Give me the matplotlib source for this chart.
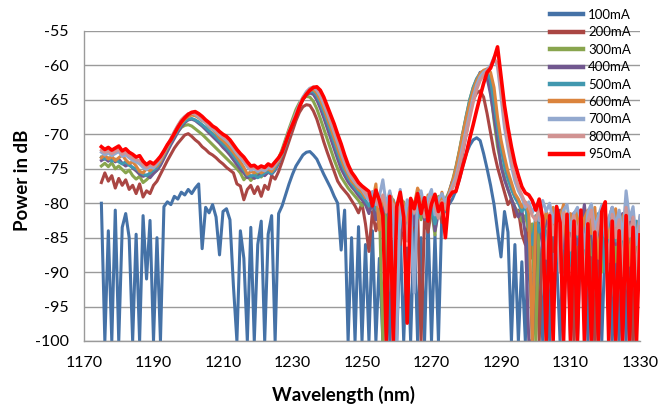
import numpy as np
import matplotlib
matplotlib.use("Agg")
import matplotlib.pyplot as plt

# ---------------- data ----------------
wavelength = list(range(1175, 1331))  # nm, 1 nm steps

labels = ["100mA", "200mA", "300mA", "400mA", "500mA", "600mA", "700mA", "800mA", "950mA"]
colors = ["#4572A7", "#AA4643", "#89A54E", "#71588F", "#4198AF", "#DB843D", "#93A9CF", "#D19392", "#FF0000"]

p100 = [
    -80.0, -100, -84.0, -100, -81.0, -100, -83.5, -81.5, -85.0, -100,
    -84.5, -100, -81.8, -91.0, -82.5, -100, -85.0, -100, -80.5, -79.8,
    -80.2, -79.0, -79.4, -78.4, -78.8, -78.0, -78.6, -77.8, -77.2, -86.6,
    -80.6, -81.4, -80.2, -82.0, -87.5, -81.2, -80.8, -82.4, -92.0, -100,
    -84.0, -88.0, -100, -83.5, -100, -86.0, -82.6, -100, -84.5, -81.8,
    -100, -81.5, -80.4, -78.8, -77.2, -75.8, -74.6, -73.8, -73.0, -72.6,
    -72.5, -73.0, -73.6, -74.7, -75.8, -76.8, -77.8, -79.0, -80.0, -86.8,
    -81.0, -100, -85.0, -100, -83.4, -100, -86.0, -100, -84.0, -100,
    -88.0, -100, -82.5, -100, -85.5, -100, -84.0, -100, -86.5, -100,
    -83.0, -100, -85.0, -100, -82.4, -100, -84.6, -100, -81.0, -79.6,
    -80.2, -79.4, -78.2, -76.6, -74.6, -72.8, -71.6, -70.8, -70.5, -70.9,
    -72.8, -75.0, -77.4, -80.2, -84.0, -87.8, -81.2, -84.2, -100, -86.0,
    -100, -88.5, -100, -84.0, -100, -83.0, -86.5, -100, -84.0, -100,
    -82.6, -88.0, -100, -85.0, -83.2, -100, -86.0, -100, -84.4, -82.0,
    -100, -87.0, -100, -83.6, -100, -85.4, -82.8, -100, -87.8, -100,
    -84.0, -100, -83.0, -100, -85.5, -84.0,
]
p200 = [
    -77.0, -75.6, -76.8, -76.0, -77.8, -76.4, -77.4, -76.6, -78.0, -77.4,
    -78.6, -77.2, -79.1, -78.2, -78.6, -77.4, -76.8, -75.8, -74.8, -73.8,
    -72.9, -72.0, -71.3, -70.7, -70.1, -69.9, -70.3, -70.8, -71.2, -71.8,
    -72.2, -72.7, -73.0, -73.4, -73.9, -74.3, -74.8, -75.2, -75.6, -77.2,
    -77.5, -79.5, -78.0, -77.4, -78.6, -77.6, -79.0, -77.4, -78.0, -76.0,
    -76.5, -75.4, -74.0, -72.5, -71.0, -69.5, -68.0, -66.8, -66.0, -65.7,
    -65.8, -66.6, -67.8, -69.4, -71.1, -72.6, -74.0, -75.4, -76.8, -77.6,
    -78.2, -78.8, -79.6, -80.4, -81.4, -80.0, -83.0, -87.0, -81.2, -84.0,
    -82.0, -80.6, -84.5, -81.8, -83.0, -80.4, -86.0, -82.4, -81.0, -85.0,
    -82.6, -80.8, -100, -82.0, -84.2, -81.0, -83.4, -80.6, -82.8, -80.4,
    -79.0, -77.5, -75.2, -72.8, -70.6, -68.4, -66.5, -65.0, -64.0, -63.7,
    -64.6, -67.0, -69.8, -72.6, -74.8, -76.6, -78.4, -80.2, -79.4, -82.0,
    -81.0, -84.5, -86.0, -82.4, -88.0, -83.0, -100, -84.4, -86.5, -82.6,
    -87.0, -84.0, -83.0, -90.0, -85.4, -82.8, -100, -86.0, -84.2, -88.0,
    -83.4, -86.5, -100, -84.0, -82.6, -89.0, -85.0, -83.2, -100, -86.0,
    -84.5, -88.5, -83.0, -100, -86.0, -84.8,
]
p300 = [
    -74.6, -74.2, -74.7, -74.1, -75.0, -74.6, -75.1, -75.6, -75.2, -76.0,
    -76.5, -76.1, -77.0, -76.6, -76.1, -75.6, -75.2, -74.3, -73.3, -72.2,
    -71.2, -70.3, -69.6, -69.0, -68.7, -68.6, -68.8, -69.2, -69.6, -70.0,
    -70.5, -71.0, -71.5, -72.0, -72.5, -73.0, -73.5, -74.0, -74.5, -75.0,
    -75.6, -76.6, -76.0, -76.7, -76.1, -75.6, -76.2, -75.5, -75.1, -75.6,
    -74.6, -73.5, -72.2, -70.7, -69.2, -67.8, -66.4, -65.4, -64.8, -64.5,
    -64.6, -65.2, -66.3, -67.7, -69.2, -70.7, -72.2, -73.7, -75.0, -76.2,
    -77.0, -77.8, -78.4, -79.0, -79.6, -80.4, -79.8, -81.2, -80.2, -82.0,
    -80.5, -100, -81.0, -79.6, -82.8, -80.4, -81.6, -79.8, -83.0, -80.6,
    -81.2, -79.8, -82.4, -80.5, -79.6, -81.0, -84.6, -79.0, -81.6, -79.5,
    -78.4, -76.8, -74.8, -72.4, -69.8, -67.4, -65.0, -63.2, -62.0, -61.5,
    -61.4, -61.6, -63.6, -68.0, -71.8, -74.2, -76.2, -78.0, -79.4, -80.6,
    -81.4, -82.6, -81.8, -84.0, -83.0, -100, -82.0, -85.0, -81.6, -86.0,
    -82.4, -84.8, -81.2, -86.5, -83.0, -81.8, -88.0, -82.6, -85.2, -81.4,
    -84.0, -87.5, -82.2, -83.6, -90.0, -81.8, -84.6, -82.4, -88.5, -83.0,
    -82.0, -86.0, -84.4, -81.6, -87.0, -83.5,
]
p400 = [
    -73.8, -73.5, -73.9, -73.4, -74.0, -73.6, -74.2, -74.6, -74.3, -74.9,
    -75.3, -75.8, -76.1, -75.9, -76.3, -75.7, -75.2, -74.5, -73.5, -72.5,
    -71.5, -70.6, -69.7, -68.9, -68.3, -67.9, -67.8, -68.0, -68.4, -68.8,
    -69.3, -69.8, -70.3, -70.8, -71.3, -71.9, -72.4, -73.0, -73.7, -74.4,
    -75.1, -75.6, -76.3, -76.0, -76.4, -76.1, -75.7, -76.0, -75.5, -75.8,
    -75.2, -74.2, -73.0, -71.6, -70.1, -68.6, -67.2, -65.9, -64.9, -64.3,
    -64.0, -64.2, -65.0, -66.2, -67.6, -69.1, -70.6, -72.1, -73.6, -75.0,
    -76.0, -76.9, -77.6, -78.2, -78.9, -79.5, -80.2, -81.5, -79.8, -82.4,
    -80.4, -81.6, -79.4, -83.6, -80.6, -82.0, -80.2, -84.8, -81.0, -80.4,
    -83.2, -80.6, -79.8, -82.4, -81.0, -80.0, -84.0, -81.4, -79.4, -80.6,
    -78.6, -76.8, -77.0, -75.2, -72.6, -70.0, -67.0, -64.5, -62.5, -61.0,
    -61.0, -61.8, -64.2, -67.5, -70.8, -74.6, -76.6, -78.0, -79.4, -80.6,
    -82.0, -81.0, -84.5, -100, -100, -83.0, -82.2, -86.5, -81.6, -84.0,
    -82.8, -88.0, -81.0, -84.6, -90.0, -82.6, -81.4, -86.0, -83.5, -80.2,
    -85.5, -82.0, -92.0, -83.4, -81.8, -87.0, -82.5, -80.6, -86.0, -84.4,
    -81.5, -89.0, -83.0, -81.6, -92.0, -84.0,
]
p500 = [
    -73.3, -73.6, -73.4, -73.9, -73.6, -74.0, -74.3, -74.0, -74.5, -74.8,
    -75.0, -75.4, -75.8, -76.0, -75.6, -75.2, -74.8, -74.0, -73.0, -72.1,
    -71.1, -70.2, -69.4, -68.6, -68.1, -67.8, -67.7, -67.9, -68.2, -68.6,
    -69.0, -69.5, -69.9, -70.4, -70.9, -71.4, -71.9, -72.5, -73.1, -73.8,
    -74.5, -75.2, -75.9, -76.1, -75.9, -76.3, -76.0, -75.6, -75.4, -75.7,
    -75.0, -74.0, -72.9, -71.5, -70.0, -68.6, -67.2, -65.9, -64.9, -64.2,
    -63.8, -63.8, -64.4, -65.5, -66.8, -68.2, -69.7, -71.2, -72.7, -74.1,
    -75.3, -76.3, -77.1, -77.8, -78.4, -79.0, -79.6, -80.4, -79.2, -80.8,
    -81.5, -79.6, -80.8, -82.4, -79.5, -81.2, -80.0, -83.6, -80.7, -81.9,
    -79.8, -82.2, -80.4, -79.6, -81.8, -80.2, -83.0, -80.6, -79.4, -81.2,
    -78.8, -77.2, -75.0, -72.6, -69.9, -67.3, -65.0, -63.2, -61.9, -61.1,
    -60.8, -60.9, -62.2, -65.5, -69.0, -72.0, -74.6, -76.5, -78.0, -79.2,
    -80.0, -81.2, -80.4, -83.5, -86.0, -81.8, -84.2, -82.0, -87.5, -82.8,
    -84.0, -81.2, -86.6, -83.0, -81.8, -89.0, -82.4, -84.8, -81.6, -88.0,
    -83.2, -82.0, -86.2, -81.5, -84.0, -90.0, -82.8, -81.4, -85.5, -83.0,
    -88.0, -82.2, -84.6, -86.5, -82.6, -85.0,
]
p600 = [
    -73.4, -73.0, -73.6, -73.2, -73.8, -73.4, -73.0, -73.7, -74.2, -74.0,
    -74.6, -75.4, -75.6, -75.0, -75.3, -74.8, -74.6, -73.9, -72.9, -71.9,
    -70.9, -70.0, -69.1, -68.4, -67.8, -67.4, -67.2, -67.3, -67.6, -68.0,
    -68.3, -68.9, -69.3, -69.8, -70.5, -70.9, -71.4, -72.0, -72.6, -73.3,
    -74.0, -74.8, -75.8, -75.4, -75.6, -75.2, -75.6, -75.3, -75.0, -75.4,
    -74.6, -73.9, -72.8, -71.4, -69.9, -68.5, -67.2, -65.9, -64.8, -64.0,
    -63.6, -63.5, -64.0, -65.0, -66.2, -67.6, -69.0, -70.5, -72.0, -73.5,
    -74.8, -75.8, -76.8, -77.3, -78.0, -78.4, -79.2, -78.8, -80.0, -77.2,
    -83.9, -79.0, -80.6, -78.5, -79.8, -81.0, -78.9, -80.2, -82.5, -79.5,
    -80.3, -77.8, -79.0, -81.6, -78.8, -80.5, -79.6, -82.0, -78.4, -80.9,
    -78.5, -77.0, -75.0, -72.6, -70.0, -67.6, -65.5, -63.6, -62.2, -61.2,
    -60.7, -60.5, -61.0, -63.2, -67.5, -70.8, -73.2, -75.4, -77.0, -78.6,
    -79.4, -80.6, -79.8, -81.5, -100, -82.4, -80.8, -84.0, -81.2, -83.0,
    -80.6, -85.5, -82.0, -80.2, -87.0, -81.5, -83.6, -80.8, -86.0, -82.2,
    -81.0, -84.4, -80.6, -88.0, -82.5, -81.2, -85.0, -83.0, -80.8, -87.5,
    -82.0, -81.0, -89.0, -83.2, -84.5, -82.0,
]
p700 = [
    -72.6, -73.0, -72.7, -73.1, -72.8, -72.5, -73.2, -73.0, -73.4, -73.8,
    -74.0, -74.3, -74.8, -75.1, -74.7, -74.9, -74.3, -73.6, -72.6, -71.7,
    -70.7, -69.7, -68.8, -68.0, -67.5, -67.1, -66.9, -67.1, -67.5, -67.9,
    -68.3, -68.8, -69.2, -69.6, -70.1, -70.5, -70.9, -71.4, -72.1, -72.8,
    -73.4, -74.0, -74.7, -75.2, -75.0, -75.4, -75.1, -75.3, -74.8, -75.0,
    -74.4, -73.6, -72.6, -71.0, -69.5, -68.2, -66.9, -65.6, -64.6, -63.8,
    -63.3, -63.2, -63.6, -64.4, -65.6, -66.9, -68.3, -69.7, -71.2, -72.7,
    -74.1, -75.4, -76.3, -77.0, -77.6, -78.0, -78.8, -79.6, -78.3, -80.2,
    -79.0, -76.6, -80.4, -78.2, -81.6, -100, -78.0, -84.0, -79.5, -80.6,
    -93.0, -79.0, -78.2, -80.8, -79.3, -78.0, -81.7, -79.4, -78.6, -79.8,
    -78.8, -77.5, -76.2, -74.0, -71.6, -69.2, -66.9, -64.6, -62.8, -61.6,
    -61.0, -60.6, -60.0, -58.8, -60.2, -64.5, -69.0, -72.0, -74.6, -76.8,
    -78.2, -79.2, -80.6, -79.8, -81.4, -80.2, -82.5, -79.6, -81.2, -80.0,
    -82.8, -80.4, -83.5, -81.0, -80.2, -84.0, -81.5, -80.6, -82.4, -86.5,
    -81.3, -80.1, -83.7, -81.9, -80.3, -84.8, -82.2, -80.6, -83.3, -81.0,
    -85.2, -78.2, -82.4, -80.5, -86.0, -81.8,
]
p800 = [
    -72.3, -72.6, -72.4, -72.8, -72.5, -72.2, -72.9, -72.6, -73.1, -73.4,
    -73.7, -73.8, -74.4, -74.8, -74.4, -74.6, -74.0, -73.4, -72.4, -71.6,
    -70.6, -69.6, -68.7, -67.9, -67.4, -67.0, -66.9, -67.0, -67.3, -67.7,
    -68.2, -68.6, -69.0, -69.4, -69.9, -70.3, -70.6, -71.1, -71.8, -72.5,
    -73.1, -73.7, -74.4, -74.9, -74.8, -75.1, -74.9, -75.0, -74.6, -74.8,
    -74.2, -73.5, -72.6, -71.1, -69.6, -68.4, -67.1, -65.8, -64.7, -64.0,
    -63.4, -63.1, -63.3, -64.0, -65.1, -66.4, -67.8, -69.2, -70.6, -72.0,
    -73.6, -75.0, -76.0, -76.7, -77.4, -77.8, -78.5, -79.0, -79.9, -79.4,
    -80.5, -78.8, -81.3, -79.6, -80.2, -82.8, -79.2, -81.0, -85.5, -79.8,
    -81.4, -79.5, -80.2, -82.0, -80.6, -79.1, -80.5, -82.2, -79.7, -80.8,
    -79.0, -77.9, -76.8, -74.8, -72.4, -70.0, -67.7, -65.4, -63.5, -62.2,
    -61.4, -60.8, -60.2, -59.2, -59.6, -63.5, -68.0, -71.2, -73.8, -76.0,
    -77.6, -78.8, -80.0, -80.5, -81.8, -82.5, -80.6, -83.8, -88.0, -81.5,
    -84.6, -82.0, -90.0, -81.4, -83.6, -86.8, -81.8, -84.5, -82.0, -92.0,
    -82.6, -81.0, -86.0, -83.0, -81.5, -83.8, -88.5, -81.6, -85.0, -82.4,
    -90.5, -80.6, -84.8, -82.0, -91.0, -83.4,
]
p950 = [
    -71.8, -72.2, -71.9, -72.3, -72.0, -71.7, -72.4, -72.1, -72.6, -72.9,
    -73.3, -73.1, -73.9, -74.4, -74.0, -74.3, -73.8, -73.2, -72.4, -71.5,
    -70.8, -69.9, -69.0, -68.2, -67.6, -67.1, -66.8, -66.7, -67.0, -67.4,
    -67.9, -68.3, -68.8, -69.1, -69.6, -70.0, -70.3, -70.8, -71.5, -72.2,
    -72.8, -73.3, -74.0, -74.6, -74.5, -74.9, -74.6, -74.8, -74.3, -74.6,
    -74.0, -73.4, -72.6, -71.2, -69.8, -68.6, -67.4, -66.0, -64.9, -64.2,
    -63.6, -63.2, -63.1, -63.6, -64.6, -65.9, -67.2, -68.5, -70.0, -71.4,
    -73.0, -74.4, -75.5, -76.2, -77.0, -77.5, -77.9, -78.3, -80.4, -78.1,
    -79.6, -81.8, -100, -79.0, -100, -80.5, -78.4, -82.0, -97.4, -79.3,
    -80.8, -78.6, -81.5, -79.2, -82.6, -80.1, -78.7, -81.2, -80.0, -85.0,
    -79.2, -78.4, -78.3, -76.5, -74.6, -72.8, -70.6, -68.6, -66.5, -64.5,
    -62.6, -61.0, -60.4, -59.0, -57.3, -61.5, -65.8, -69.0, -71.8, -74.2,
    -76.0, -77.6, -78.5, -78.8, -79.6, -81.0, -79.4, -82.2, -100, -81.8,
    -100, -80.5, -82.8, -100, -81.6, -100, -82.6, -100, -81.0, -100,
    -83.0, -100, -84.2, -100, -81.2, -79.8, -100, -82.6, -100, -84.0,
    -100, -81.8, -100, -83.5, -100, -84.6,
]
series = [p100, p200, p300, p400, p500, p600, p700, p800, p950]

x_ticks = [1170, 1190, 1210, 1230, 1250, 1270, 1290, 1310, 1330]
y_ticks = [-55, -60, -65, -70, -75, -80, -85, -90, -95, -100]

# ---------------- plot ----------------
plt.rcParams['font.family'] = ['Lato', 'DejaVu Sans']
plt.rcParams['axes.unicode_minus'] = False
fig = plt.figure(figsize=(6.7, 4.05), dpi=100)
ax = fig.add_axes([84/670, 1-341/405, (640-84)/670, (341-31)/405])

for vals, lab, col in zip(series, labels, colors):
    lw = 2.6 if lab == "950mA" else 2.2
    ax.plot(wavelength, vals, color=col, lw=lw, label=lab, solid_joinstyle='round')

ax.set_xlim(1170, 1330)
ax.set_ylim(-100, -55)
ax.set_xticks(x_ticks)
ax.set_yticks(y_ticks)
ax.tick_params(axis='both', length=0, labelsize=11.5, colors='#000000')
ax.tick_params(axis='y', pad=11)
ax.tick_params(axis='x', pad=11)
ax.yaxis.grid(True, color='#9A9A9A', lw=1)
ax.set_axisbelow(True)
for s in ['top', 'right']:
    ax.spines[s].set_visible(False)
for s in ['left', 'bottom']:
    ax.spines[s].set_color('#9A9A9A')
    ax.spines[s].set_linewidth(1)

fig.text(343/670, 1-395/405, "Wavelength (nm)", ha='center', va='center',
         fontsize=13.5, fontweight='bold')
fig.text(23/670, 1-180/405, "Power in dB", ha='center', va='center',
         rotation=90, fontsize=13.5, fontweight='bold')

leg = ax.legend(loc='upper left', bbox_to_anchor=(550/670, 1-9/405),
                bbox_transform=fig.transFigure, frameon=False, fontsize=9.5,
                handlelength=2.5, handletextpad=0.38, labelspacing=0.41,
                borderaxespad=0, borderpad=0)
for h in leg.get_lines():
    h.set_linewidth(3.2)

fig.savefig("out.png", dpi=100)
